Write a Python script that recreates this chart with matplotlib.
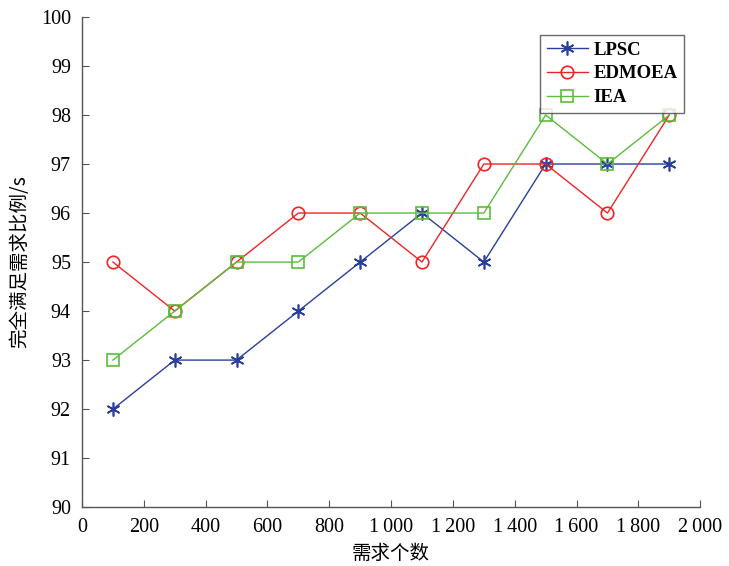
import matplotlib
matplotlib.use("Agg")
import matplotlib.pyplot as plt
from matplotlib.ticker import FuncFormatter, MultipleLocator

x = [100, 300, 500, 700, 900, 1100, 1300, 1500, 1700, 1900]
lpsc = [92, 93, 93, 94, 95, 96, 95, 97, 97, 97]
edmoea = [95, 94, 95, 96, 96, 95, 97, 97, 96, 98]
iea = [93, 94, 95, 95, 96, 96, 96, 98, 97, 98]

serif = ['Liberation Serif', 'DejaVu Serif']
cjk = ['Noto Sans CJK SC', 'DejaVu Sans']

fig = plt.figure(figsize=(7.29, 5.66), dpi=100)
ax = fig.add_axes([0.1125, 0.104, 0.848, 0.866])

ax.plot(x, lpsc, color='#2a3f9d', marker=(6, 2, 0), markersize=10, lw=1.0,
        markeredgewidth=1.2, label='LPSC', clip_on=False, zorder=3)
ax.plot(x, edmoea, color='#f02424', marker='o', markersize=9, lw=1.0,
        markerfacecolor='none', markeredgewidth=1.2, label='EDMOEA', clip_on=False, zorder=3)
ax.plot(x, iea, color='#5cbc3c', marker='s', markersize=8, lw=1.0,
        markerfacecolor='none', markeredgewidth=1.2, label='IEA', clip_on=False, zorder=3)

ax.set_xlim(0, 2000)
ax.set_ylim(90, 100)
ax.xaxis.set_major_locator(MultipleLocator(200))
ax.yaxis.set_major_locator(MultipleLocator(1))

def fmt(v, pos):
    v = int(round(v))
    if v >= 1000:
        return f"{v // 1000}\u2009{v % 1000:03d}"
    return str(v)

ax.xaxis.set_major_formatter(FuncFormatter(fmt))
for s in ['top', 'right']:
    ax.spines[s].set_visible(False)
for s in ['left', 'bottom']:
    ax.spines[s].set_color('#555555')
    ax.spines[s].set_linewidth(1.0)
ax.tick_params(direction='in', length=5, color='#555555', pad=8)
for lab in ax.get_xticklabels() + ax.get_yticklabels():
    lab.set_family(serif)
    lab.set_fontsize(14.5)

ax.set_xlabel('需求个数', family=cjk, fontsize=14, labelpad=4)
ax.set_ylabel('完全满足需求比例/s', family=cjk, fontsize=14, labelpad=8)

leg = ax.legend(loc='upper right', bbox_to_anchor=(0.974, 0.963), frameon=True,
                fancybox=False, edgecolor='#444444', handlelength=2.2,
                prop={'family': serif, 'size': 13.5, 'weight': 'bold'},
                borderpad=0.35, labelspacing=0.35, handletextpad=0.3, borderaxespad=0)
leg.get_frame().set_linewidth(1.0)

fig.savefig('out.png', dpi=100)
